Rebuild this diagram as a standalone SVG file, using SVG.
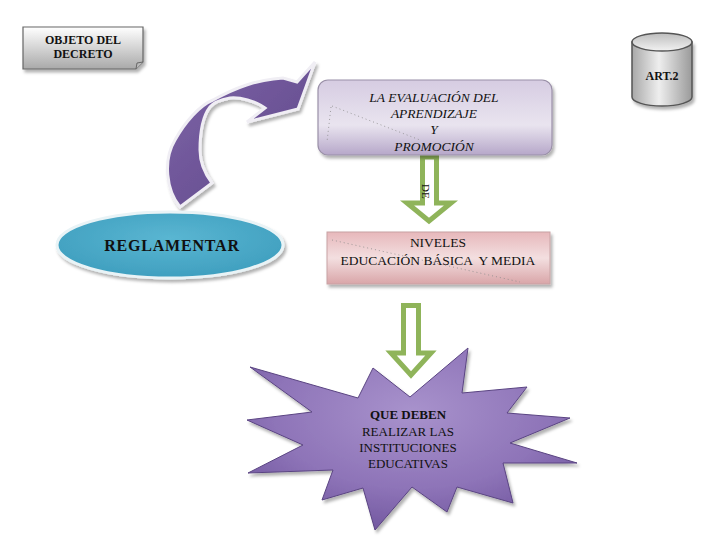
<svg xmlns="http://www.w3.org/2000/svg" width="720" height="540" viewBox="0 0 720 540">
<defs>
<linearGradient id="gObj" x1="0" y1="0" x2="0" y2="1"><stop offset="0" stop-color="#ffffff"/><stop offset="1" stop-color="#a9a9a9"/></linearGradient>
<linearGradient id="gCyl" x1="0" y1="0" x2="1" y2="0"><stop offset="0" stop-color="#a8a8a8"/><stop offset="0.45" stop-color="#eeeeee"/><stop offset="1" stop-color="#9a9a9a"/></linearGradient>
<linearGradient id="gCylTop" x1="0" y1="0" x2="0" y2="1"><stop offset="0" stop-color="#bdbdbd"/><stop offset="1" stop-color="#f2f2f2"/></linearGradient>
<linearGradient id="gTop" x1="0" y1="0" x2="0" y2="1"><stop offset="0" stop-color="#d6cce2"/><stop offset="0.6" stop-color="#e9e4ef"/><stop offset="1" stop-color="#b6a7c9"/></linearGradient>
<linearGradient id="gNiv" x1="0" y1="0" x2="0" y2="1"><stop offset="0" stop-color="#e7b8bb"/><stop offset="0.5" stop-color="#f3dfe0"/><stop offset="1" stop-color="#d9a5a8"/></linearGradient>
<radialGradient id="gEll" cx="0.5" cy="0.4" r="0.6"><stop offset="0" stop-color="#5ab6d2"/><stop offset="1" stop-color="#3f9fbf"/></radialGradient>
<linearGradient id="gCurve" x1="0" y1="0" x2="1" y2="1"><stop offset="0" stop-color="#7e66a8"/><stop offset="1" stop-color="#5e4488"/></linearGradient>
<radialGradient id="gStar" cx="0.5" cy="0.35" r="0.7"><stop offset="0" stop-color="#a892cc"/><stop offset="0.6" stop-color="#8e74b8"/><stop offset="1" stop-color="#6e549c"/></radialGradient>
<filter id="sh" x="-10%" y="-10%" width="130%" height="140%"><feDropShadow dx="2" dy="3" stdDeviation="1.5" flood-color="#000" flood-opacity="0.3"/></filter>
</defs>
<style>
.t{font-family:"Liberation Serif","Times New Roman",serif;fill:#111;text-anchor:middle}
.b{font-weight:bold}
.i{font-style:italic}
.arr{fill:#fff;stroke:#8fb45a;stroke-width:5;stroke-linejoin:miter}
.dot{fill:none;stroke:#8a8a8a;stroke-width:0.8;stroke-dasharray:1 3}
</style>

<g id="connectors">
<path id="curved-arrow" d="M180,207 C166,190 163,160 175,140 C185,122 200,105 213,100 C235,88 255,80 283,78 L297,82 L315,62 L298,109 L247,122 L265,108 C255,101 240,97 230,98 C220,100 213,103 210,107 C203,116 200,130 200,150 C200,160 202,170 212,183 Z" fill="url(#gCurve)" stroke="#f0eef4" stroke-width="3" stroke-linejoin="miter" filter="url(#sh)"/>
<path id="arrow-de" class="arr" d="M422.5,157 L436.5,157 L436.5,203 L451,203 L429,221 L407,203 L422.5,203 Z"/>
<text font-family="Liberation Serif, Times New Roman, serif" font-size="11" fill="#111" transform="translate(422,184) rotate(90)">DE</text>
<path id="arrow-down" class="arr" d="M403.5,305.5 L418.5,305.5 L418.5,353 L431,353 L411,375 L391,353 L403.5,353 Z"/>
</g>

<g id="objeto">
<path d="M23,27 H143 V62 L136,69 H23 Z" fill="url(#gObj)" stroke="#666" stroke-width="1.2" filter="url(#sh)"/>
<path d="M136,69 L137,63 L143,62" fill="#bbb" stroke="#666" stroke-width="1"/>
<text class="t b" font-size="12" x="83" y="44">OBJETO DEL</text>
<text class="t b" font-size="12" x="83" y="58">DECRETO</text>
</g>

<g id="art2">
<path d="M632,42 V97 A30,9 0 0 0 692,97 V42 Z" fill="url(#gCyl)" stroke="#555" stroke-width="1.5" filter="url(#sh)"/>
<ellipse cx="662" cy="42" rx="30" ry="9" fill="url(#gCylTop)" stroke="#555" stroke-width="1.5"/>
<text class="t b" font-size="12" x="662" y="80">ART.2</text>
</g>

<g id="evaluacion">
<rect x="318" y="80" width="234" height="75" rx="10" fill="url(#gTop)" stroke="#9a90a8" stroke-width="1.2" filter="url(#sh)"/>
<path class="dot" d="M331,107 L327,142 M332,106 L420,140"/>
<text class="t i" font-size="13.5" x="434" y="102">LA EVALUACIÓN DEL</text>
<text class="t i" font-size="13.5" x="434" y="118">APRENDIZAJE</text>
<text class="t i" font-size="13.5" x="434" y="134">Y</text>
<text class="t i" font-size="13.5" x="434" y="151">PROMOCIÓN</text>
</g>

<g id="reglamentar">
<ellipse cx="170" cy="245" rx="113" ry="33" fill="url(#gEll)" stroke="#e9f3f6" stroke-width="3" filter="url(#sh)"/>
<text class="t b" font-size="16" letter-spacing="0.8" x="172" y="251">REGLAMENTAR</text>
</g>

<g id="niveles">
<rect x="327" y="232" width="223" height="52" fill="url(#gNiv)" stroke="#c8a2a4" stroke-width="1" filter="url(#sh)"/>
<path class="dot" d="M332,240 L520,282"/>
<text class="t" font-size="13.5" x="438" y="247">NIVELES</text>
<text class="t" font-size="13.5" x="438" y="265" xml:space="preserve">EDUCACIÓN BÁSICA  Y MEDIA</text>
</g>

<g id="instituciones">
<polygon points="250,367 358,398 373,368 410,397 468,348 462,393 527,387 507,413 570,418 510,443 577,463 503,463 513,503 457,487 447,512 412,487 375,530 363,488 322,500 333,470 248,473 303,445 247,420 312,412" fill="url(#gStar)" stroke="#5a4482" stroke-width="1" filter="url(#sh)"/>
<text class="t b" font-size="13" x="408" y="419">QUE DEBEN</text>
<text class="t" font-size="13" x="408" y="436">REALIZAR LAS</text>
<text class="t" font-size="13" x="408" y="452">INSTITUCIONES</text>
<text class="t" font-size="13" x="408" y="468">EDUCATIVAS</text>
</g>
</svg>
